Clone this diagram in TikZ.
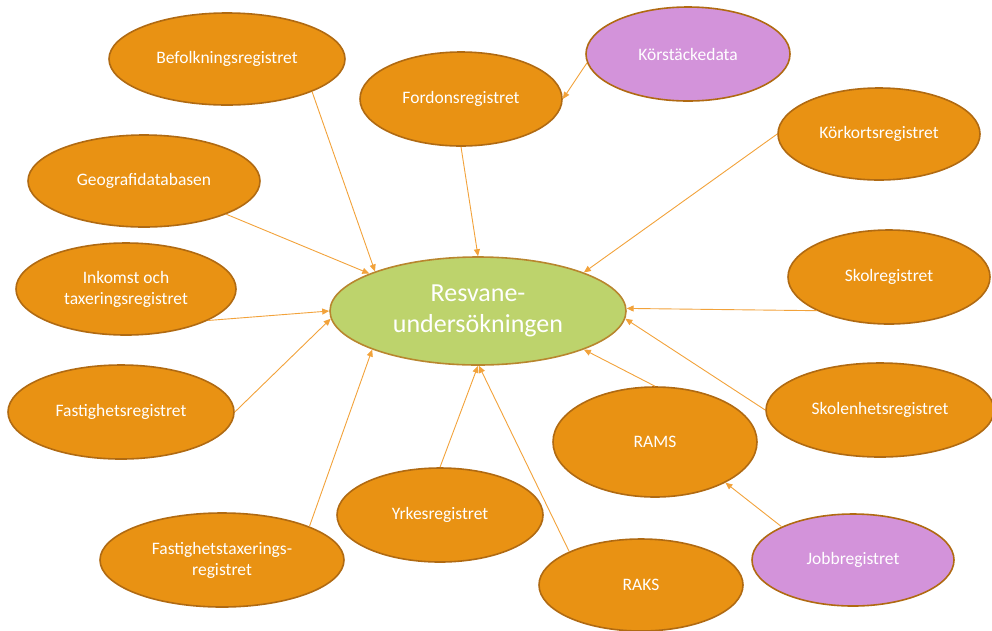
\documentclass[tikz,border=0pt]{standalone}
\usepackage{fontspec}
\setmainfont{Carlito}
\usetikzlibrary{shapes.geometric,arrows.meta}
\definecolor{orfill}{HTML}{E99213}
\definecolor{orline}{HTML}{B06A12}
\definecolor{grfill}{HTML}{BDD36C}
\definecolor{grline}{HTML}{B8862E}
\definecolor{pufill}{HTML}{D393DA}
\definecolor{connc}{HTML}{F2A23A}
\begin{document}
\begin{tikzpicture}[x=1pt,y=-1pt,
  reg/.style={ellipse, draw=orline, line width=1.6pt, fill=orfill, text=white,
    font=\fontsize{17.5}{21}\selectfont, align=center, inner sep=0pt},
  regp/.style={reg, fill=pufill},
  hub/.style={reg, fill=grfill, draw=grline, font=\fontsize{26}{31}\selectfont},
  conn/.style={draw=connc, line width=0.9pt, -{Triangle[length=7pt,width=6pt]}}
]
\useasboundingbox (0,0) rectangle (992,630);

\node[hub, minimum width=296pt, minimum height=108pt] (M) at (478,311) {Resvane-\\undersökningen};

\node[reg, minimum width=236pt, minimum height=92pt] (bef) at (227,59) {Befolkningsregistret};
\node[reg, minimum width=202pt, minimum height=94pt] (ford) at (461,99) {Fordonsregistret};
\node[regp, minimum width=204pt, minimum height=94pt] (kors) at (688,54) {Körstäckedata};
\node[reg, minimum width=202pt, minimum height=92pt] (kork) at (879,134) {Körkortsregistret};
\node[reg, minimum width=232pt, minimum height=92pt] (geo) at (144,181) {Geografidatabasen};
\node[reg, minimum width=220pt, minimum height=92pt] (ink) at (126,289) {Inkomst och\\taxeringsregistret};
\node[reg, minimum width=202pt, minimum height=94pt] (skol) at (889,277) {Skolregistret};
\node[reg, minimum width=226pt, minimum height=94pt] (fast) at (121,412) {Fastighetsregistret};
\node[reg, minimum width=228pt, minimum height=94pt] (skolenh) at (880,410) {Skolenhetsregistret};
\node[reg, minimum width=204pt, minimum height=110pt] (rams) at (655,442) {RAMS};
\node[reg, minimum width=206pt, minimum height=94pt] (yrk) at (440,515) {Yrkesregistret};
\node[reg, minimum width=244pt, minimum height=94pt] (ftax) at (222,560) {Fastighetstaxerings-\\registret};
\node[reg, minimum width=204pt, minimum height=92pt] (raks) at (641,585) {RAKS};
\node[regp, minimum width=202pt, minimum height=92pt] (jobb) at (853,560) {Jobbregistret};

\draw[conn] (bef.-21) -- (M.159);
\draw[conn] (geo.-22) -- (M.161);
\draw[conn] (ink.-21) -- (M.180);
\draw[conn] (fast.0) -- (M.183);
\draw[conn] (ftax.21) -- (M.200);
\draw[conn] (yrk.90) -- (M.-90);
\draw[conn] (raks.155) -- (M.-89);
\draw[conn] (rams.90) -- (M.-20);
\draw[conn] (skolenh.180) -- (M.-3);
\draw[conn] (skol.205) -- (M.1);
\draw[conn] (kork.180) -- (M.20);
\draw[conn] (ford.-90) -- (M.90);
\draw[conn] (kors.185) -- (ford.0);
\draw[conn] (jobb.155) -- (rams.-30);
\end{tikzpicture}
\end{document}
